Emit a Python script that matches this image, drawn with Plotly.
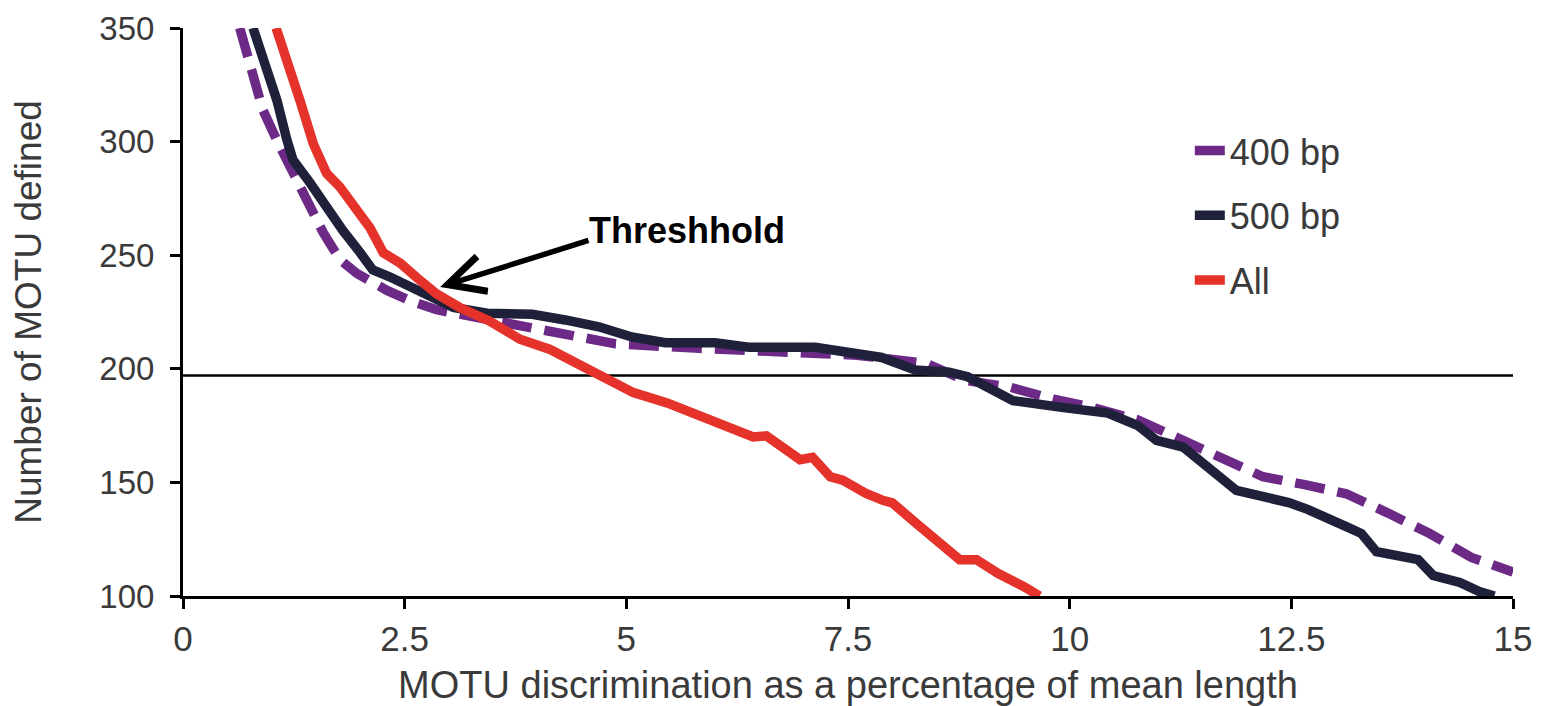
import plotly.graph_objects as go

# ---- data ----
x_400 = [0.64, 0.76, 0.9, 1.06, 1.24, 1.43, 1.58, 1.77, 1.96, 2.3, 2.56, 2.86, 3.4, 3.94, 4.5, 4.88,
         5.82, 6.87, 7.6, 8.37, 8.82, 9.06, 9.32, 9.83, 10.26, 10.77, 11.28, 11.71, 12.18, 12.65,
         13.12, 13.59, 14.06, 14.53, 15.0]
y_400 = [350, 333, 314, 300.5, 286, 271, 260, 248, 242, 234.5, 230, 226, 222, 218.5, 214, 211,
         209, 207.5, 206, 202.5, 195, 193.5, 192, 186.5, 183, 177.5, 168.5, 160, 152.5, 149,
         145, 136.5, 127.5, 117, 110.5]

x_500 = [0.79, 0.94, 1.06, 1.17, 1.24, 1.43, 1.62, 1.8, 2.0, 2.14, 2.33, 2.56, 2.79, 3.05, 3.43,
         3.94, 4.31, 4.69, 5.06, 5.44, 6.0, 6.38, 7.13, 7.5, 7.88, 8.26, 8.64, 8.85, 9.15, 9.36,
         9.91, 10.43, 10.77, 10.98, 11.28, 11.62, 11.88, 12.48, 12.69, 13.12, 13.29, 13.46, 13.68,
         13.93, 14.1, 14.4, 14.62, 14.79]
y_500 = [350, 333, 318, 301, 292, 282, 271, 261, 251, 243.5, 240.5, 236, 231.5, 227, 224.5,
         224, 221.5, 218.5, 214, 211.5, 211.5, 209.5, 209.5, 207, 205, 199.5, 198.5, 196.5, 190.5, 186,
         183, 180.5, 175, 168.5, 165.5, 154, 146.5, 141, 138, 130.5, 127.5, 119.5, 118,
         116, 109, 106, 102, 100]

x_all = [1.05, 1.2, 1.32, 1.47, 1.62, 1.77, 1.96, 2.11, 2.26, 2.45, 2.64, 2.86, 3.12, 3.46, 3.8,
         4.14, 4.51, 4.82, 5.08, 5.46, 5.83, 6.2, 6.43, 6.58, 6.77, 6.96, 7.1, 7.3, 7.44, 7.71,
         7.9, 8.0, 8.27, 8.46, 8.76, 8.95, 9.19, 9.49, 9.66]
y_all = [350, 333, 318, 299, 286, 280, 270, 262, 251, 246.5, 240, 233, 227, 221, 213,
         208.5, 201, 195, 189.5, 185, 179, 173, 170, 170.5, 165.5, 160, 161, 152.5, 151, 145,
         142, 141, 132, 126, 116, 116, 110, 104, 100]

threshold_y = 197
threshold_label = "Threshhold"
threshold_point = (2.9, 236)      # arrow tip
threshold_tail = (4.59, 256.7)    # arrow tail
threshold_text_pos = (5.68, 261)

x_tickvals = [0, 2.5, 5, 7.5, 10, 12.5, 15]
x_ticktext = ["0", "2.5", "5", "7.5", "10", "12.5", "15"]
y_tickvals = [100, 150, 200, 250, 300, 350]

FONT = "Liberation Sans, Arial, sans-serif"
TXT = "#3a3a3a"

fig = go.Figure()
fig.add_trace(go.Scatter(x=x_400, y=y_400, mode="lines", name="400 bp", legendgroup="a",
                         line=dict(color="#6C2A86", width=9.5, dash="30px,13px")))
fig.add_trace(go.Scatter(x=x_500, y=y_500, mode="lines", name="500 bp", legendgroup="b",
                         line=dict(color="#1E2139", width=9.5)))
fig.add_trace(go.Scatter(x=x_all, y=y_all, mode="lines", name="All", legendgroup="c",
                         line=dict(color="#E5322A", width=9.5)))

fig.add_hline(y=threshold_y, line=dict(color="black", width=2.5), layer="below")

fig.add_annotation(x=threshold_point[0], y=threshold_point[1], ax=threshold_tail[0], ay=threshold_tail[1],
                   xref="x", yref="y", axref="x", ayref="y", text="", showarrow=True,
                   arrowhead=5, arrowsize=1.3, arrowwidth=5.5, arrowcolor="black", standoff=0)
fig.add_annotation(x=threshold_text_pos[0], y=threshold_text_pos[1], xref="x", yref="y",
                   text="<b>" + threshold_label + "</b>", showarrow=False,
                   font=dict(family=FONT, size=36, color="black"))

# page body has an 8px default margin, so the figure is 8px smaller and margins shifted
fig.update_layout(
    width=1535, height=698,
    margin=dict(l=175, r=30, t=20, b=110),
    paper_bgcolor="white", plot_bgcolor="white",
    font=dict(family=FONT, size=35, color=TXT),
    showlegend=True,
    legend=dict(x=0.757, y=0.837, xanchor="left", yanchor="top",
                font=dict(family=FONT, size=36, color=TXT),
                traceorder="grouped", tracegroupgap=15, bgcolor="rgba(0,0,0,0)"),
    xaxis=dict(range=[0, 15], tickvals=x_tickvals, ticktext=x_ticktext, automargin=False,
               showgrid=False, zeroline=False, showline=True, linecolor="black", linewidth=3,
               ticks="outside", ticklen=10, tickwidth=3, tickcolor="black",
               tickfont=dict(size=35, color=TXT),
               title=dict(text="MOTU discrimination as a percentage of mean length",
                          font=dict(size=38, color=TXT), standoff=18)),
    yaxis=dict(range=[100, 350], tickvals=y_tickvals, automargin=False,
               showgrid=False, zeroline=False, showline=True, linecolor="black", linewidth=3,
               ticks="outside", ticklen=10, tickwidth=3, tickcolor="black",
               tickfont=dict(size=33, color=TXT), ticklabelstandoff=9,
               title=dict(text="Number of MOTU defined",
                          font=dict(size=37, color=TXT), standoff=48)),
)

fig.write_html("out.html")
